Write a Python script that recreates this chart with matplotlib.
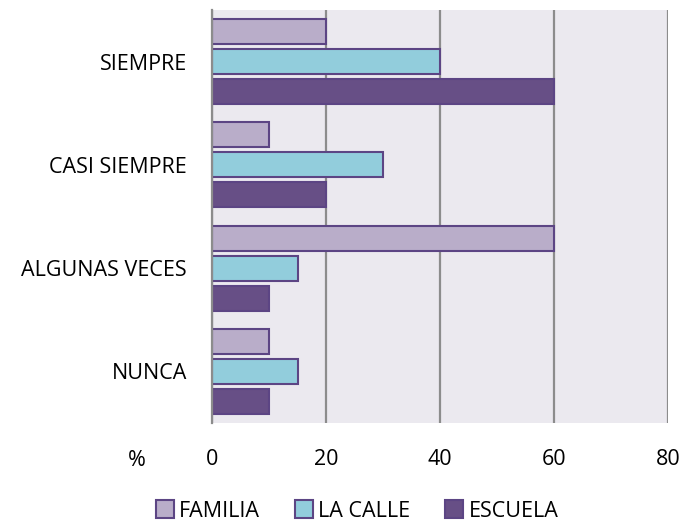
import numpy as np
import matplotlib.pyplot as plt
from matplotlib.patches import Patch
from matplotlib import rcParams

rcParams.update({'font.family': ['Open Sans', 'DejaVu Sans'], 'font.size': 15})

categorias = ['NUNCA', 'ALGUNAS VECES', 'CASI SIEMPRE', 'SIEMPRE']
familia = [10, 60, 10, 20]
la_calle = [15, 15, 30, 40]
escuela = [10, 10, 20, 60]
series = ['FAMILIA', 'LA CALLE', 'ESCUELA']
colores = ['#B9ADC9', '#92CDDC', '#674F86']
borde = '#5C4584'

fig = plt.figure(figsize=(6.84, 5.23), dpi=100)
ax = fig.add_axes([0.31, 0.191, 0.6666, 0.790])
ax.set_facecolor('#EBE9EF')

ind = np.arange(len(categorias))
pitch = 0.29
height = 0.243
for k, (vals, col) in enumerate(zip([familia, la_calle, escuela], colores)):
    ax.barh(ind + (1 - k) * pitch, vals, height, color=col, edgecolor=borde, linewidth=1.5, zorder=3)

ax.set_xlim(0, 80)
ax.set_ylim(-0.5, 3.5)
ax.set_xticks([0, 20, 40, 60, 80])
ax.set_yticks(ind)
ax.set_yticklabels(categorias, fontsize=15.5)
ax.tick_params(axis='x', length=0, pad=19, labelsize=15.5)
ax.tick_params(axis='y', length=0, pad=18)
ax.xaxis.grid(True, color='#8C8C8C', linewidth=1.6, zorder=1)
for s in ['top', 'bottom', 'right']:
    ax.spines[s].set_visible(False)
ax.spines['left'].set_color('#8C8C8C')
ax.spines['left'].set_linewidth(1.6)
ax.spines['left'].set_zorder(4)

fig.text(137 / 684, 1 - 461 / 523, '%', fontsize=15.5, ha='center', va='center')

handles = [Patch(facecolor=c, edgecolor=borde, linewidth=1.5) for c in colores]
fig.legend(handles, series, loc='center', bbox_to_anchor=(357 / 684, 1 - 511 / 523), ncol=3,
           frameon=False, fontsize=15.5, handlelength=0.85, handleheight=0.85,
           handletextpad=0.25, columnspacing=1.6)

fig.savefig('out.png', dpi=100)
